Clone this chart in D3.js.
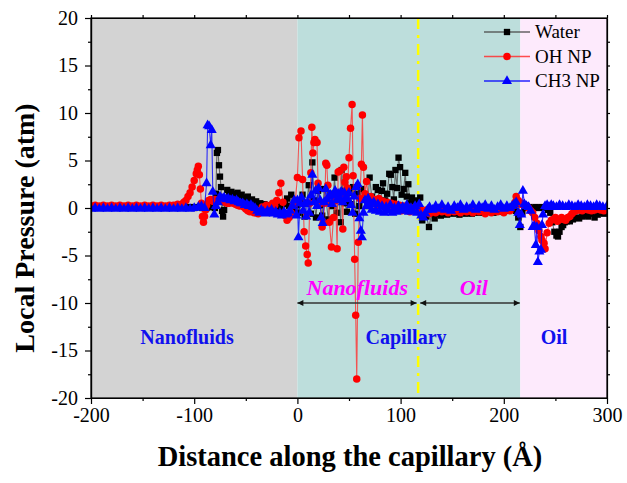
<!DOCTYPE html>
<html><head><meta charset="utf-8">
<script src="https://cdn.jsdelivr.net/npm/d3@7"></script>
<style>body{margin:0;background:#fff}svg{display:block}svg text{font-family:'Liberation Serif','Times New Roman',serif}</style>
</head><body>
<script>
// ---------- data ----------
const xTicks = [-200, -100, 0, 100, 200, 300];
const yTicks = [-20, -15, -10, -5, 0, 5, 10, 15, 20];
const regions = [
  {name: "Nanofluids", from: -200, to: 0, color: "#d3d3d3"},
  {name: "Capillary", from: 0, to: 216, color: "#bddedc"},
  {name: "Oil", from: 216, to: 300, color: "#fdeafc"}
];
const interfaceX = 117;

const waterX = [-200,-196,-192,-188,-184,-180,-176,-172,-168,-164,-160,-156,-152,-148,-144,-140,-136,-132,-128,-124,-120,-116,-112,-108,-104,-100,-96,-92,-88,-86,-84,-82,-80,-79,-78,-77,-76,-75,-74,-73,-72,-71,-70,-68,-66,-64,-62,-60,-58,-56,-54,-52,-50,-48,-46,-44,-42,-40,-38,-36,-34,-32,-30,-28,-26,-24,-22,-20,-18,-16,-14,-12,-10,-8,-6,-4,-2,0,1,3,5,7,9,11,13,14.5,16,18,20,22,24,26,28,30,32,34,36,38,40,42,43,44,46,48,50,52,54,56,58,60,62,64,66,68,70,72,74,76,78,80,82,83,85,87,89,90.5,92,93.5,95,96.5,98,99.5,101,103,104.5,106,107.5,109,111,113,115,117,119,121,123,125,127.5,130,133,136,139,142,145,148,151,154,157,160,163,166,169,172,175,178,181,184,187,190,193,196,199,202,205,208,210,212,214,216,218,220,222,225,228,231,234,237,240,243,245,247,249,251,252.5,254,256,257.5,259,261,264,267,270,273,276,279,282,285,288,291,294,297,300];
const waterY = [0.1,0.0,0.1,0.0,0.1,0.0,0.1,0.0,0.1,0.0,0.1,0.0,0.1,0.0,0.1,0.0,0.1,0.0,0.1,0.0,0.1,0.0,0.1,0.0,0.1,0.0,0.1,0.0,0.0,0.1,0.2,0.1,0.0,1.5,5.8,6.1,4.5,3.3,2.2,-0.3,-0.9,-0.2,0.6,1.9,1.4,1.7,1.5,1.2,1.6,1.3,1.4,1.1,1.0,1.2,0.8,0.9,0.6,0.7,0.4,0.5,0.3,0.4,0.2,0.3,0.0,0.2,-0.2,0.1,-0.3,0.2,-0.5,0.4,1.0,0.2,1.4,-0.3,0.6,0.3,-0.5,0.6,1.4,-0.9,0.5,2.4,-0.6,4.8,0.8,-1.0,1.8,0.3,-0.8,2.0,0.6,-1.2,1.5,0.2,3.2,-0.5,1.2,-1.5,4.0,1.8,0.5,-0.4,1.6,0.4,2.2,-0.6,1.5,0.2,2.0,0.9,1.0,0.2,3.2,1.2,0.5,2.2,1.9,0.6,1.8,2.6,0.8,1.5,3.6,3.5,2.2,0.9,4.0,2.1,5.3,4.3,1.4,2.0,3.7,1.2,2.5,0.5,1.1,0.3,0.8,0.2,1.1,-1.3,-0.4,-0.9,-2.0,-0.6,-1.1,-0.6,-0.8,-0.5,-0.7,-0.4,-0.6,-0.5,-0.7,-0.4,-0.6,-0.5,-0.6,-0.4,-0.5,-0.3,-0.5,-0.4,-0.3,-0.5,-0.2,-0.4,-0.1,-0.3,-0.2,0.1,0.2,-0.3,-1.0,-2.0,-0.5,0.0,0.2,0.1,0.0,0.1,0.0,0.1,0.0,-0.2,-0.5,-1.5,-2.5,-2.9,-3.0,-2.5,-2.0,-1.8,-1.5,-1.4,-1.4,-1.2,-1.0,-1.1,-0.9,-0.8,-0.9,-0.6,-1.0,-0.7,-0.5,-0.6,-0.4];

const ohX = [-200,-196,-192,-188,-184,-180,-176,-172,-168,-164,-160,-156,-152,-148,-144,-140,-136,-132,-128,-124,-120,-116,-112,-110,-108,-106,-104,-102,-100,-98,-97,-96,-95,-94,-93,-92,-91,-90,-89,-88,-86,-84,-82,-80,-78,-76,-74,-72,-70,-68,-66,-64,-62,-60,-58,-56,-54,-52,-50,-48,-46,-44,-42,-40,-38,-36,-34,-32,-30,-28,-26,-24,-22,-20,-18,-16,-14,-12,-10,-8,-6,-4,-2,0,1.5,3.5,5,6.5,8,9.5,10.5,12,13,14,15,16,17,19,20,22,24,25,26.5,27.5,28.5,29.5,31,33,35,37,38.5,39.5,41,43,44,45,46,47.5,48.5,50,51.5,53,54,55.5,56.5,57.5,59,60.5,62,63,64,65.5,67,69,71,73,75,77,79,81,83,85,87,89,91,93,95,97,99,101,103,105,107,109,111,113,115,117,119,122,125,128,131,134,137,140,143,146,149,152,155,158,161,164,167,170,173,176,179,182,185,188,191,194,197,200,203,206,209,211,212,214,216,218,220,222,224,226,228,230,232,234,236,237,239,240,242,244,246,248,250,252,254,256,258,260,262,264,266,268,270,273,276,279,282,285,288,291,294,297,300];
const ohY = [0.2,0.3,0.2,0.3,0.2,0.3,0.2,0.3,0.2,0.3,0.2,0.3,0.2,0.3,0.2,0.3,0.2,0.3,0.2,0.3,0.3,0.4,0.4,0.6,0.8,1.2,1.6,2.2,2.9,3.6,4.0,4.4,3.5,2.0,0.5,-0.9,-1.5,-0.9,-0.2,0.3,0.8,0.9,0.7,0.9,0.8,0.7,0.8,0.7,0.6,0.5,0.5,0.6,0.5,0.4,0.3,0.2,0.3,0.1,-0.1,-0.3,-0.4,-0.1,-0.5,-0.5,-0.6,-0.3,0.1,-0.2,0.3,-0.1,0.2,0.5,0.3,0.8,1.6,2.6,0.6,-0.8,-1.3,-1.0,-0.5,0.3,0.8,3.2,7.4,8.1,3.0,-2.5,-4.0,-4.9,-5.8,0.5,3.7,8.5,5.8,6.9,7.2,6.9,2.6,0.5,-2.0,-1.5,0.5,4.7,4.5,2.4,-1.5,-4.1,-1.0,0.8,-4.3,3.8,3.9,1.5,-2.2,4.3,2.7,3.3,2.1,5.3,8.4,10.9,3.4,-5.4,-11.3,-18.0,-3.6,1.0,4.6,9.8,4.3,1.5,2.8,0.8,1.2,0.5,0.9,0.3,1.0,0.4,0.7,0.2,0.6,0.0,0.5,-0.2,0.4,-0.1,0.3,-0.3,0.2,-0.2,0.1,-0.4,0.0,-0.3,0.1,-0.4,-0.1,-0.5,-0.2,-0.6,-0.3,-0.5,-0.2,-0.4,-0.3,-0.5,-0.2,-0.4,-0.3,-0.5,-0.2,-0.4,-0.3,-0.5,-0.2,-0.4,-0.3,-0.6,-0.3,-0.5,-0.2,-0.4,-0.3,-0.5,-0.2,-0.3,0.2,0.6,1.2,0.8,0.4,0.5,0.3,0.2,0.0,-0.3,-0.5,-1.0,-1.6,-2.4,-3.0,-3.4,-3.7,-4.3,-2.6,-1.6,-1.3,-1.2,-1.0,-1.4,-1.2,-1.0,-1.2,-1.3,-1.0,-0.9,-0.6,-0.4,-0.3,-0.2,-0.3,-0.1,-0.2,-0.3,-0.2,-0.1,-0.2,-0.3,-0.1];

const ch3X = [-200,-196,-192,-188,-184,-180,-176,-172,-168,-164,-160,-156,-152,-148,-144,-140,-136,-132,-128,-124,-120,-116,-112,-108,-104,-100,-96,-93,-90,-88,-87,-85.5,-84,-83,-82,-80.5,-79,-77,-75,-73,-71,-69,-67,-65,-63,-61,-59,-57,-55,-53,-51,-49,-47,-45,-43,-41,-39,-37,-35,-33,-31,-29,-27,-25,-23,-21,-19,-17,-15,-13,-11,-9,-7,-5,-3,-1,0,1,2.5,4,5.5,7,8.5,10,11.5,13,14.5,16,17.5,19,20.5,22,23,24.5,26,27.5,29,30.5,32,33.5,35,36.5,38,39.5,41,42.5,44,45.5,47,48.5,50,52,53.5,55,57,58.5,60,61.5,62.5,64,65.5,67,68.5,70,72,74,76,78,80,82,84,86,88,90,92,94,96,98,100,102,104,106,108,110,112,114,116,118,120,122,124,126,128,131,134,137,140,143,146,149,152,155,158,161,164,167,170,173,176,179,182,185,188,191,194,197,200,203,206,208,210,212,214,215.5,217,218.5,220,222,224,226,228,229.5,231,232,233,234.5,236,237,238,240,242,244,246,248,251,254,257,260,263,266,269,272,275,278,281,284,287,290,293,296,300];
const ch3Y = [-0.1,0.0,-0.1,0.0,-0.1,0.0,-0.1,0.0,-0.1,0.0,-0.1,0.0,-0.1,0.0,-0.1,0.0,-0.1,0.0,-0.1,0.0,-0.1,0.0,-0.1,0.0,-0.1,0.0,0.1,0.2,0.0,2.6,8.7,8.6,6.6,8.2,1.7,-0.7,0.2,0.6,1.2,1.0,1.1,0.9,1.0,0.8,0.9,0.7,0.8,0.6,0.5,0.5,0.3,0.4,0.2,0.3,0.1,0.0,-0.3,-0.5,-0.2,-0.4,-0.6,-0.3,-0.5,-0.2,-0.6,-0.4,-0.7,-0.5,-0.8,-0.4,-0.7,-0.6,-0.3,0.2,0.8,-0.8,0.8,-3.1,0.5,1.1,-0.3,0.4,-0.9,0.6,-0.5,1.3,3.5,0.6,1.8,0.2,2.1,0.8,-1.0,-1.6,0.6,2.0,0.9,1.2,1.4,0.4,1.3,1.8,0.8,1.5,1.0,1.7,0.6,1.6,1.1,0.9,1.6,0.3,-0.5,1.2,2.2,2.5,-1.1,-2.4,-3.1,-0.5,0.8,0.2,1.0,0.4,-0.2,0.6,-0.3,0.4,-0.4,0.2,-0.5,0.1,-0.3,0.3,-0.5,0.0,-0.4,0.2,-0.3,0.1,-0.2,0.3,-0.4,0.0,-0.3,0.2,-0.5,0.4,-0.8,-1.0,-0.6,-0.2,0.1,-0.2,0.2,-0.1,0.3,-0.2,0.1,-0.3,0.2,0.0,0.3,-0.2,0.1,-0.1,0.3,-0.2,0.2,0.0,0.3,-0.1,0.2,-0.2,0.1,0.3,-0.1,0.2,0.0,0.2,0.4,0.6,-0.5,-1.8,-0.7,1.8,0.4,0.2,0.1,-0.3,-2.0,-1.9,-3.9,-2.0,-5.7,-4.6,-4.4,-1.8,-0.7,0.2,0.3,0.1,0.3,0.2,0.1,0.3,0.2,0.1,0.3,0.2,0.1,0.3,0.2,0.1,0.3,0.2,0.1,0.3,0.2,0.1,0.2];

const series = [
  {name: "Water", xs: waterX, ys: waterY, color: "#000000", lineColor: "#4a4a4a", shape: d3.symbolSquare, size: 40},
  {name: "OH NP", xs: ohX, ys: ohY, color: "#ff0000", lineColor: "#ff3030", shape: d3.symbolCircle, size: 44},
  {name: "CH3 NP", xs: ch3X, ys: ch3Y, color: "#0000ff", lineColor: "#0000ff", shape: d3.symbolTriangle, size: 44}
];

// ---------- layout ----------
const W = 627, H = 483;
const x = d3.scaleLinear().domain([-200, 300]).range([91, 607]);
const y = d3.scaleLinear().domain([-20, 20]).range([398, 18]);
const serif = "'Liberation Serif','Times New Roman',serif";

const svg = d3.select("body").append("svg").attr("width", W).attr("height", H)
  .style("font-family", serif);

svg.append("g").selectAll("rect").data(regions).join("rect")
  .attr("x", d => x(d.from)).attr("y", y(20))
  .attr("width", d => x(d.to) - x(d.from)).attr("height", y(-20) - y(20))
  .attr("fill", d => d.color);

svg.append("line").attr("x1", x(interfaceX)).attr("x2", x(interfaceX))
  .attr("y1", y(20)).attr("y2", y(-20))
  .attr("stroke", "#ffff00").attr("stroke-width", 2.5)
  .attr("stroke-dasharray", "11,6,3,6");

const defs = svg.append("defs");
defs.append("clipPath").attr("id", "c")
  .append("rect").attr("x", x(-200)).attr("y", y(20)).attr("width", x(300) - x(-200)).attr("height", y(-20) - y(20));
const plotG = svg.append("g").attr("clip-path", "url(#c)");
series.forEach(s => {
  const pts = s.xs.map((v, i) => [v, s.ys[i]]);
  const g = plotG.append("g");
  g.append("path").datum(pts)
    .attr("d", d3.line().x(d => x(d[0])).y(d => y(d[1])))
    .attr("fill", "none").attr("stroke", s.lineColor).attr("stroke-width", 1.1).attr("stroke-opacity", 0.8);
  g.selectAll("path.m").data(pts).join("path").attr("class", "m")
    .attr("transform", d => `translate(${x(d[0])},${y(d[1])})`)
    .attr("d", d3.symbol().type(s.shape).size(s.size))
    .attr("fill", s.color);
});

// annotations
const annot = svg.append("g");
annot.append("text").attr("x", 187).attr("y", 344).attr("text-anchor", "middle")
  .attr("font-weight", "bold").attr("font-size", 20).attr("fill", "#1010ee").text("Nanofluids");
annot.append("text").attr("x", 406).attr("y", 344).attr("text-anchor", "middle")
  .attr("font-weight", "bold").attr("font-size", 20).attr("fill", "#1010ee").text("Capillary");
annot.append("text").attr("x", 554).attr("y", 344).attr("text-anchor", "middle")
  .attr("font-weight", "bold").attr("font-size", 20).attr("fill", "#1010ee").text("Oil");
annot.append("text").attr("x", x(58)).attr("y", 295).attr("text-anchor", "middle")
  .attr("font-weight", "bold").attr("font-style", "italic").attr("font-size", 22).attr("fill", "#ff00ff").text("Nanofluids");
annot.append("text").attr("x", x(171)).attr("y", 295).attr("text-anchor", "middle")
  .attr("font-weight", "bold").attr("font-style", "italic").attr("font-size", 22).attr("fill", "#ff00ff").text("Oil");

["s", "e"].forEach(k => {
  defs.append("marker").attr("id", "ah" + k).attr("viewBox", "0 0 10 10")
    .attr("refX", k === "e" ? 10 : 0).attr("refY", 5)
    .attr("markerWidth", 12).attr("markerHeight", 6).attr("markerUnits", "userSpaceOnUse")
    .attr("orient", "auto")
    .append("path").attr("d", k === "e" ? "M0,0L10,5L0,10Z" : "M10,0L0,5L10,10Z").attr("fill", "#111");
});
const arrows = [[0, 115.5], [119, 215.5]];
annot.selectAll("line.arrow").data(arrows).join("line").attr("class", "arrow")
  .attr("x1", d => x(d[0])).attr("x2", d => x(d[1]))
  .attr("y1", y(-10)).attr("y2", y(-10))
  .attr("stroke", "#333").attr("stroke-width", 1.4)
  .attr("marker-start", "url(#ahs)").attr("marker-end", "url(#ahe)");

// axes
const fontSize = 20;
const fmt = d => String(d);
const bottom = svg.append("g").attr("transform", `translate(0,${y(-20)})`)
  .call(d3.axisBottom(x).tickValues(xTicks).tickSize(6).tickSizeOuter(0).tickFormat(fmt));
svg.append("g").attr("transform", `translate(0,${y(-20)})`)
  .call(d3.axisBottom(x).tickValues([-150, -50, 50, 150, 250]).tickSize(3).tickSizeOuter(0).tickFormat(""));
const left = svg.append("g").attr("transform", `translate(${x(-200)},0)`)
  .call(d3.axisLeft(y).tickValues(yTicks).tickSize(6).tickSizeOuter(0).tickFormat(fmt));
svg.append("g").attr("transform", `translate(${x(-200)},0)`)
  .call(d3.axisLeft(y).tickValues([-17.5, -12.5, -7.5, -2.5, 2.5, 7.5, 12.5, 17.5]).tickSize(3).tickSizeOuter(0).tickFormat(""));
svg.append("g").attr("transform", `translate(0,${y(20)})`)
  .call(d3.axisTop(x).tickValues(xTicks.concat([-150, -50, 50, 150, 250])).tickSize(3).tickSizeOuter(0).tickFormat(""));
svg.append("g").attr("transform", `translate(${x(300)},0)`)
  .call(d3.axisRight(y).tickValues([-17.5,-15,-12.5,-10,-7.5,-5,-2.5,0,2.5,5,7.5,10,12.5,15,17.5]).tickSize(3).tickSizeOuter(0).tickFormat(""));
svg.selectAll(".domain").attr("stroke", "#000").attr("stroke-width", 1.2);
svg.selectAll(".tick line").attr("stroke", "#000").attr("stroke-width", 1.2);
[bottom, left].forEach(g => g.attr("font-family", null).attr("font-size", null)
  .style("font-family", serif).style("font-size", fontSize + "px"));
bottom.selectAll("text").style("font-family", serif).style("font-size", fontSize + "px").attr("fill", "#000").attr("dy", "0.72em").attr("y", 10);
left.selectAll("text").style("font-family", serif).style("font-size", fontSize + "px").attr("fill", "#000").attr("x", -13);

svg.append("rect").attr("x", x(-200)).attr("y", y(20)).attr("width", x(300) - x(-200)).attr("height", y(-20) - y(20))
  .attr("fill", "none").attr("stroke", "#000").attr("stroke-width", 1.2);

// axis titles
svg.append("text").attr("x", 350).attr("y", 466).attr("text-anchor", "middle")
  .attr("font-weight", "bold").attr("font-size", 28.5).text("Distance along the capillary (Å)");
svg.append("text").attr("transform", "translate(34,228) rotate(-90)").attr("text-anchor", "middle")
  .attr("font-weight", "bold").attr("font-size", 28).text("Local Pressure (atm)");

// legend
const leg = svg.append("g");
series.forEach((s, i) => {
  const ly = 32 + i * 24.5;
  leg.append("line").attr("x1", 484).attr("x2", 530).attr("y1", ly).attr("y2", ly)
    .attr("stroke", s.lineColor).attr("stroke-width", 1.3).attr("stroke-opacity", 0.85);
  leg.append("path").attr("transform", `translate(507,${ly})`)
    .attr("d", d3.symbol().type(s.shape).size(s.size)).attr("fill", s.color);
  leg.append("text").attr("x", 535).attr("y", ly + 6).attr("font-size", 19).attr("fill", "#000").text(s.name);
});
</script>
</body></html>
